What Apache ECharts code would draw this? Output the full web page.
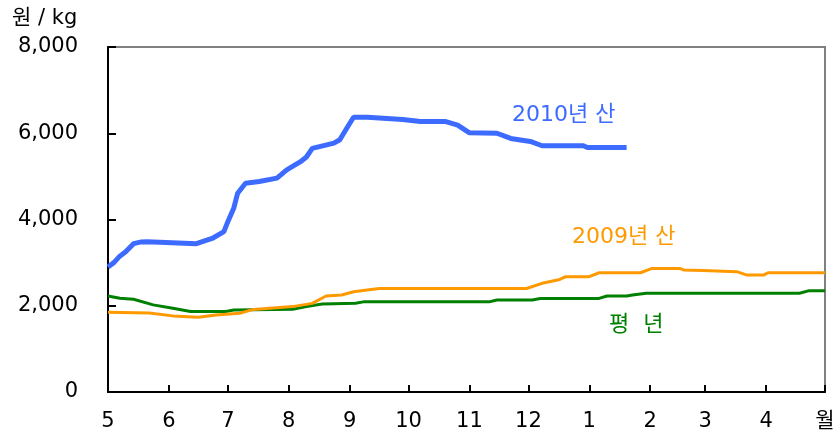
<!DOCTYPE html>
<html>
<head>
<meta charset="utf-8">
<script src="https://cdn.jsdelivr.net/npm/echarts@6/dist/echarts.min.js"></script>
<style>
  html, body { margin: 0; padding: 0; background: #fff; }
  #chart { width: 839px; height: 437px; }
</style>
</head>
<body>
<div id="chart"></div>
<script>
// x = days since 5/1, y = 원/kg
const monthStartDays = [0, 31, 61, 92, 123, 153, 184, 214, 245, 276, 304, 335, 365];
const monthLabels = ['5', '6', '7', '8', '9', '10', '11', '12', '1', '2', '3', '4', '월'];

// 2010년산
const crop2010 = [
  [0, 2900], [3, 3000], [6, 3150], [9, 3250], [13, 3440], [17, 3480], [20, 3485],
  [45, 3440], [53, 3560], [59, 3720], [61, 3950], [64, 4260], [66, 4610], [70, 4840],
  [77, 4880], [86, 4960], [91, 5150], [98, 5340], [101, 5450], [104, 5650], [115, 5770],
  [118, 5850], [122, 6150], [125, 6370], [132, 6370], [133, 6330], [150, 6320],
  [159, 6270], [172, 6270], [178, 6190], [184, 6010], [198, 6000], [205, 5880],
  [215, 5810], [221, 5710], [242, 5710], [244, 5670], [264, 5670]
];

// 2009년산
const crop2009 = [
  [0, 1850], [21, 1830], [33, 1765], [46, 1735], [55, 1785], [67, 1825], [74, 1915],
  [94, 1980], [104, 2055], [111, 2225], [119, 2250], [125, 2325], [135, 2385],
  [138, 2400], [213, 2400], [221, 2520], [230, 2610], [233, 2675], [245, 2675],
  [250, 2765], [271, 2765], [277, 2865], [291, 2865], [293, 2830], [303, 2815],
  [320, 2790], [325, 2715], [334, 2715], [336, 2765], [365, 2765]
];

// 평년
const normalYear = [
  [0, 2225], [6, 2175], [13, 2150], [23, 2020], [33, 1940], [42, 1865], [60, 1865],
  [64, 1900], [94, 1920], [101, 1980], [109, 2040], [126, 2060], [130, 2090],
  [194, 2090], [198, 2135], [216, 2135], [220, 2170], [250, 2170], [254, 2225],
  [264, 2225], [267, 2250], [274, 2290], [352, 2290], [357, 2350], [365, 2350]
];

const chart = echarts.init(document.getElementById('chart'));
const baseFont = 'DejaVu Sans, Noto Sans CJK KR, sans-serif';

chart.setOption({
  animation: false,
  grid: {
    left: 108, right: 14, top: 47, bottom: 45,
    show: true, borderColor: '#808080', borderWidth: 2, backgroundColor: 'transparent'
  },
  xAxis: {
    type: 'value', min: 0, max: 365,
    axisLine: { lineStyle: { color: '#000', width: 2 } },
    axisTick: { inside: true, length: 7, customValues: monthStartDays, lineStyle: { color: '#000', width: 2 } },
    axisLabel: {
      customValues: monthStartDays,
      margin: 19, color: '#000', fontSize: 21, fontFamily: baseFont,
      formatter: v => monthLabels[monthStartDays.indexOf(v)]
    },
    splitLine: { show: false }
  },
  yAxis: {
    type: 'value', min: 0, max: 8000, interval: 2000,
    axisLine: { show: true, lineStyle: { color: '#000', width: 2 } },
    axisTick: { show: true, inside: true, length: 8, lineStyle: { color: '#000', width: 2 } },
    axisLabel: {
      margin: 30, color: '#000', fontSize: 21, fontFamily: baseFont,
      formatter: v => v.toLocaleString('en-US')
    },
    splitLine: { show: false }
  },
  series: [
    { name: '평년', type: 'line', data: normalYear, showSymbol: false,
      lineStyle: { color: '#008000', width: 3 } },
    { name: '2009년산', type: 'line', data: crop2009, showSymbol: false,
      lineStyle: { color: '#FF9900', width: 3 } },
    { name: '2010년산', type: 'line', data: crop2010, showSymbol: false,
      lineStyle: { color: '#3D6BFF', width: 5 } }
  ],
  graphic: [
    { type: 'text', left: 12, top: 8, style: { text: '원 / kg', fill: '#000', font: '21px ' + baseFont } },
    { type: 'text', left: 512, top: 104, style: { text: '2010년 산', fill: '#3D6BFF', font: '22px ' + baseFont } },
    { type: 'text', left: 572, top: 226, style: { text: '2009년 산', fill: '#FF9900', font: '22px ' + baseFont } },
    { type: 'text', left: 609, top: 314, style: { text: '평  년', fill: '#008000', font: '22px ' + baseFont } }
  ]
});
</script>
</body>
</html>
